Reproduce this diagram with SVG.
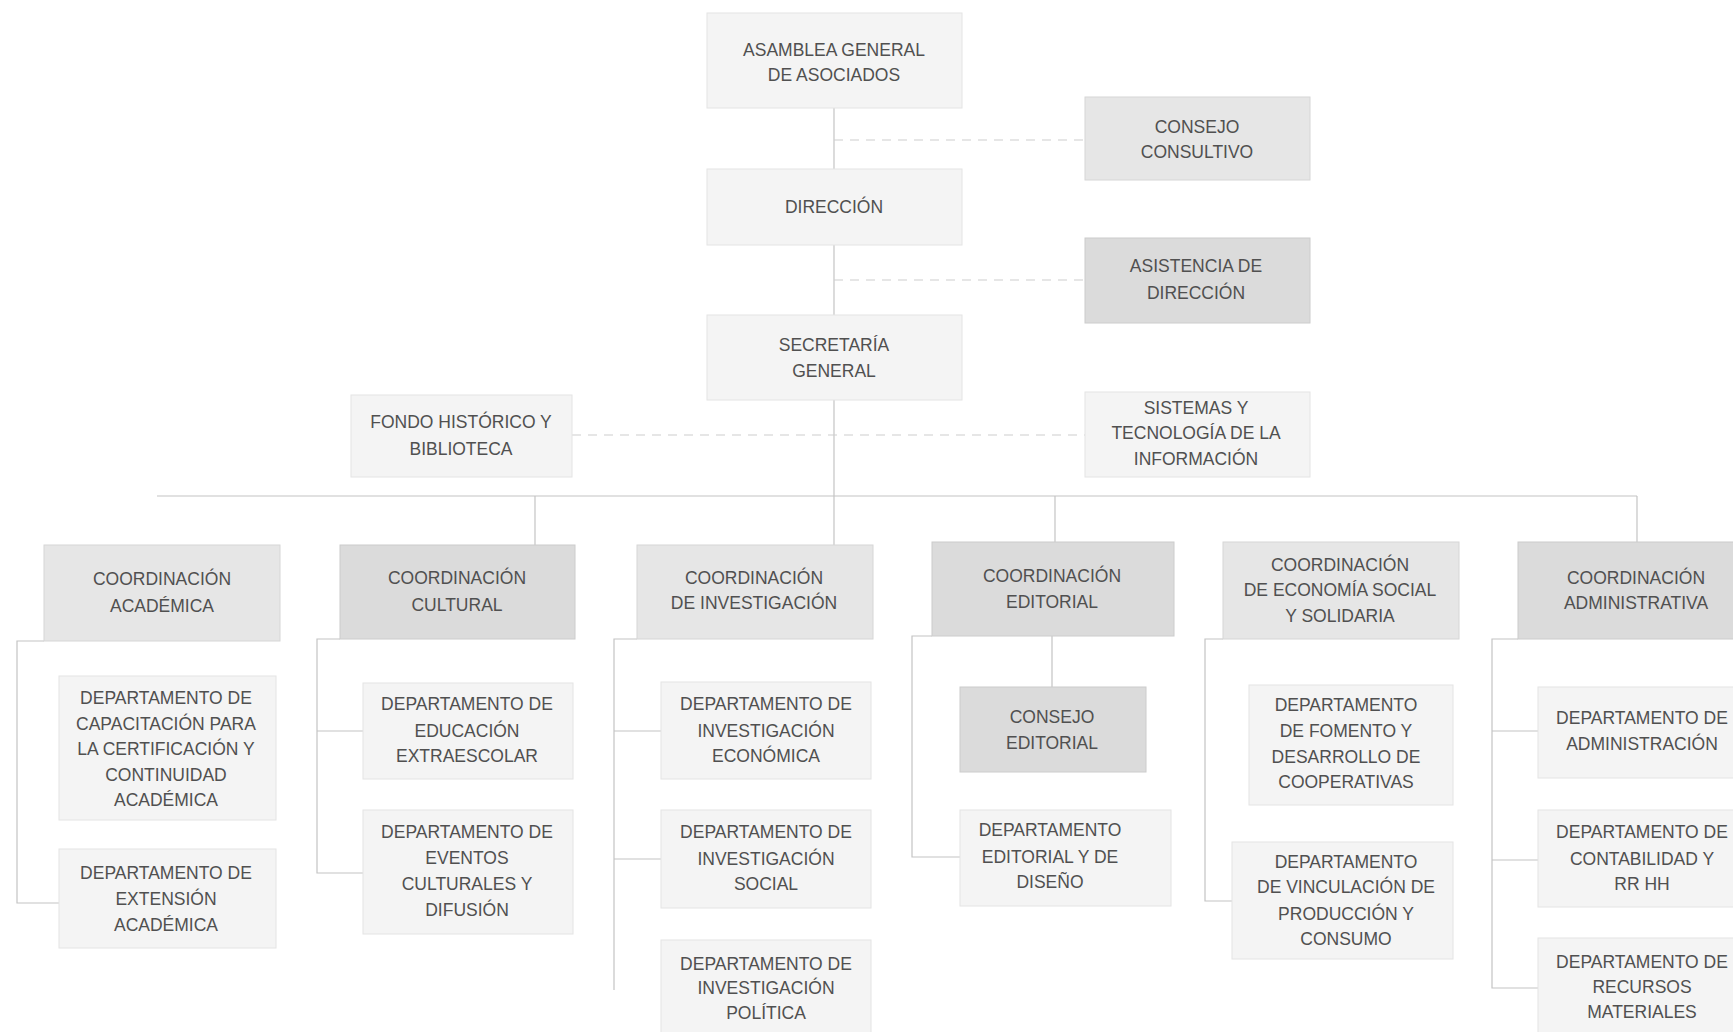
<svg xmlns="http://www.w3.org/2000/svg" width="1733" height="1032" viewBox="0 0 1733 1032">
<style>
.bl{fill:#f4f4f4;stroke:#e4e4e4;stroke-width:1}
.bm{fill:#e6e6e6;stroke:#d6d6d6;stroke-width:1}
.bd{fill:#dbdbdb;stroke:#cccccc;stroke-width:1}
text{font-family:"Liberation Sans",Arial,sans-serif;font-size:17.5px;fill:#505050;text-anchor:middle}
.ln{fill:none;stroke:#c4c4c4;stroke-width:1.2}
.ds{fill:none;stroke:#cdcdcd;stroke-width:1.2;stroke-dasharray:9 7}
</style>
<rect width="1733" height="1032" fill="#ffffff"/>
<g id="connectors">
<path class="ln" d="M834,108 V545"/>
<path class="ds" d="M834,140 H1085"/>
<path class="ds" d="M834,280 H1085"/>
<path class="ds" d="M572,435 H1085"/>
<path class="ln" d="M157,496 H1637"/>
<path class="ln" d="M535,496 V545"/>
<path class="ln" d="M1055,496 V542"/>
<path class="ln" d="M1637,496 V542"/>
<path class="ln" d="M44,641 H17 V903 H59"/>
<path class="ln" d="M340,639 H317 V873 H363 M317,731 H363"/>
<path class="ln" d="M637,639 H614 V990 M614,731 H661 M614,859 H661"/>
<path class="ln" d="M932,636 H912 V857 H960 M1052,636 V687"/>
<path class="ln" d="M1223,639 H1205 V901 H1232"/>
<path class="ln" d="M1518,639 H1492 V988 H1538 M1492,731 H1538 M1492,860 H1538"/>
</g>
<g id="asamblea"><rect class="bl" x="707" y="13" width="255" height="95"/><text x="834" y="56">ASAMBLEA GENERAL</text><text x="834" y="81">DE ASOCIADOS</text></g>
<g id="consejo-consultivo"><rect class="bm" x="1085" y="97" width="225" height="83"/><text x="1197" y="133">CONSEJO</text><text x="1197" y="158">CONSULTIVO</text></g>
<g id="direccion"><rect class="bl" x="707" y="169" width="255" height="76"/><text x="834" y="213">DIRECCIÓN</text></g>
<g id="asistencia"><rect class="bd" x="1085" y="238" width="225" height="85"/><text x="1196" y="272">ASISTENCIA DE</text><text x="1196" y="299">DIRECCIÓN</text></g>
<g id="secretaria"><rect class="bl" x="707" y="315" width="255" height="85"/><text x="834" y="351">SECRETARÍA</text><text x="834" y="377">GENERAL</text></g>
<g id="fondo"><rect class="bl" x="351" y="395" width="221" height="82"/><text x="461" y="428">FONDO HISTÓRICO Y</text><text x="461" y="455">BIBLIOTECA</text></g>
<g id="sistemas"><rect class="bl" x="1085" y="392" width="225" height="85"/><text x="1196" y="414">SISTEMAS Y</text><text x="1196" y="439">TECNOLOGÍA DE LA</text><text x="1196" y="465">INFORMACIÓN</text></g>
<g id="coord-academica"><rect class="bm" x="44" y="545" width="236" height="96"/><text x="162" y="585">COORDINACIÓN</text><text x="162" y="612">ACADÉMICA</text></g>
<g id="coord-cultural"><rect class="bd" x="340" y="545" width="235" height="94"/><text x="457" y="584">COORDINACIÓN</text><text x="457" y="611">CULTURAL</text></g>
<g id="coord-investigacion"><rect class="bm" x="637" y="545" width="236" height="94"/><text x="754" y="584">COORDINACIÓN</text><text x="754" y="609">DE INVESTIGACIÓN</text></g>
<g id="coord-editorial"><rect class="bd" x="932" y="542" width="242" height="94"/><text x="1052" y="582">COORDINACIÓN</text><text x="1052" y="608">EDITORIAL</text></g>
<g id="coord-economia"><rect class="bm" x="1223" y="542" width="236" height="97"/><text x="1340" y="571">COORDINACIÓN</text><text x="1340" y="596">DE ECONOMÍA SOCIAL</text><text x="1340" y="622">Y SOLIDARIA</text></g>
<g id="coord-administrativa"><rect class="bd" x="1518" y="542" width="220" height="97"/><text x="1636" y="584">COORDINACIÓN</text><text x="1636" y="609">ADMINISTRATIVA</text></g>
<g id="dep-capacitacion"><rect class="bl" x="59" y="676" width="217" height="144"/><text x="166" y="704">DEPARTAMENTO DE</text><text x="166" y="730">CAPACITACIÓN PARA</text><text x="166" y="755">LA CERTIFICACIÓN Y</text><text x="166" y="781">CONTINUIDAD</text><text x="166" y="806">ACADÉMICA</text></g>
<g id="dep-extension"><rect class="bl" x="59" y="849" width="217" height="99"/><text x="166" y="879">DEPARTAMENTO DE</text><text x="166" y="905">EXTENSIÓN</text><text x="166" y="931">ACADÉMICA</text></g>
<g id="dep-educacion"><rect class="bl" x="363" y="683" width="210" height="96"/><text x="467" y="710">DEPARTAMENTO DE</text><text x="467" y="737">EDUCACIÓN</text><text x="467" y="762">EXTRAESCOLAR</text></g>
<g id="dep-eventos"><rect class="bl" x="363" y="810" width="210" height="124"/><text x="467" y="838">DEPARTAMENTO DE</text><text x="467" y="864">EVENTOS</text><text x="467" y="890">CULTURALES Y</text><text x="467" y="916">DIFUSIÓN</text></g>
<g id="dep-inv-economica"><rect class="bl" x="661" y="682" width="210" height="97"/><text x="766" y="710">DEPARTAMENTO DE</text><text x="766" y="737">INVESTIGACIÓN</text><text x="766" y="762">ECONÓMICA</text></g>
<g id="dep-inv-social"><rect class="bl" x="661" y="810" width="210" height="98"/><text x="766" y="838">DEPARTAMENTO DE</text><text x="766" y="865">INVESTIGACIÓN</text><text x="766" y="890">SOCIAL</text></g>
<g id="dep-inv-politica"><rect class="bl" x="661" y="940" width="210" height="95"/><text x="766" y="970">DEPARTAMENTO DE</text><text x="766" y="994">INVESTIGACIÓN</text><text x="766" y="1019">POLÍTICA</text></g>
<g id="consejo-editorial"><rect class="bd" x="960" y="687" width="186" height="85"/><text x="1052" y="723">CONSEJO</text><text x="1052" y="749">EDITORIAL</text></g>
<g id="dep-editorial"><rect class="bl" x="960" y="810" width="211" height="96"/><text x="1050" y="836">DEPARTAMENTO</text><text x="1050" y="863">EDITORIAL Y DE</text><text x="1050" y="888">DISEÑO</text></g>
<g id="dep-fomento"><rect class="bl" x="1249" y="685" width="204" height="120"/><text x="1346" y="711">DEPARTAMENTO</text><text x="1346" y="737">DE FOMENTO Y</text><text x="1346" y="763">DESARROLLO DE</text><text x="1346" y="788">COOPERATIVAS</text></g>
<g id="dep-vinculacion"><rect class="bl" x="1232" y="842" width="221" height="117"/><text x="1346" y="868">DEPARTAMENTO</text><text x="1346" y="893">DE VINCULACIÓN DE</text><text x="1346" y="920">PRODUCCIÓN Y</text><text x="1346" y="945">CONSUMO</text></g>
<g id="dep-administracion"><rect class="bl" x="1538" y="687" width="200" height="91"/><text x="1642" y="724">DEPARTAMENTO DE</text><text x="1642" y="750">ADMINISTRACIÓN</text></g>
<g id="dep-contabilidad"><rect class="bl" x="1538" y="810" width="200" height="97"/><text x="1642" y="838">DEPARTAMENTO DE</text><text x="1642" y="865">CONTABILIDAD Y</text><text x="1642" y="890">RR HH</text></g>
<g id="dep-recursos"><rect class="bl" x="1538" y="938" width="200" height="97"/><text x="1642" y="968">DEPARTAMENTO DE</text><text x="1642" y="993">RECURSOS</text><text x="1642" y="1018">MATERIALES</text></g>
</svg>
